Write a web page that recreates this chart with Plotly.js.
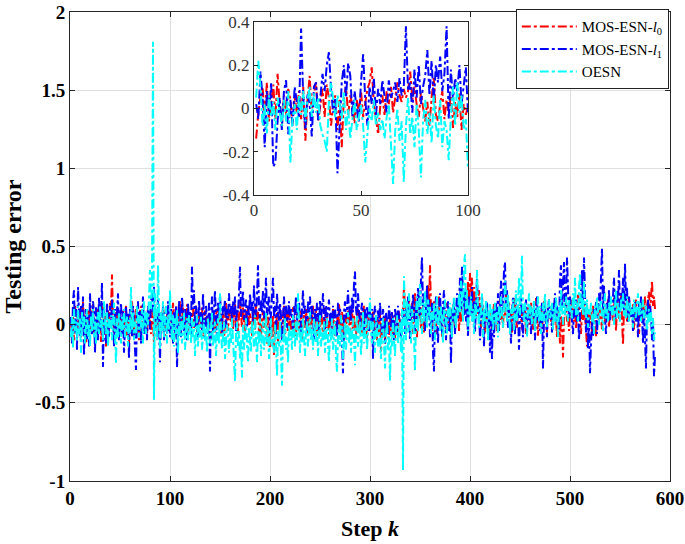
<!DOCTYPE html>
<html>
<head>
<meta charset="utf-8">
<script src="https://cdn.plot.ly/plotly-3.0.1.min.js"></script>
<style>html,body{margin:0;padding:0;background:#fff;}#chart{width:685px;height:544px;}</style>
</head>
<body>
<div id="chart"></div>
<script>
// ---- Data ----
const seriesNames = ['MOS-ESN-<i>l</i><sub>0</sub>', 'MOS-ESN-<i>l</i><sub>1</sub>', 'OESN'];

const mainRed = [
0.02,-0.08,0.05,-0.10,0.12,0.03,-0.06,0.08,-0.02,0.10,-0.09,0.04,0.15,-0.03,0.06,-0.12,0.02,0.09,-0.05,0.11,
-0.04,0.07,0.13,-0.08,0.03,-0.02,0.10,-0.06,0.05,0.08,-0.11,0.02,0.12,-0.03,0.06,-0.14,0.04,0.09,-0.05,0.14,
0.10,0.32,0.05,-0.06,0.08,-0.02,0.11,0.03,-0.09,0.06,0.01,-0.05,0.09,-0.03,0.05,0.12,-0.07,0.02,-0.12,0.07,
-0.04,0.15,0.02,-0.08,0.06,0.10,-0.03,0.04,-0.10,0.08,0.12,-0.05,0.03,0.07,-0.02,0.05,-0.08,0.11,0.01,0.06,
-0.06,0.09,0.02,-0.12,0.07,-0.03,0.04,0.10,-0.05,0.02,0.08,-0.02,0.12,0.05,-0.07,0.03,0.09,-0.04,0.06,0.01,
0.10,-0.05,0.14,0.04,-0.08,0.12,0.02,-0.03,0.09,0.15,-0.06,0.05,0.11,-0.02,0.07,0.00,0.13,-0.04,0.08,0.03,
-0.07,0.06,0.10,-0.02,0.04,0.12,-0.05,0.02,0.08,-0.03,0.06,0.11,-0.08,0.03,0.09,-0.01,0.05,-0.06,0.07,-0.03,
0.04,-0.09,0.08,0.02,-0.05,0.06,0.10,-0.02,0.04,0.12,-0.06,0.03,0.07,-0.10,0.05,0.14,0.01,-0.04,0.09,0.06,
0.02,0.10,-0.03,0.06,0.13,0.00,0.08,-0.05,0.04,0.15,0.07,-0.02,0.11,0.03,-0.06,0.09,0.05,0.12,-0.01,0.07,
0.03,-0.07,0.10,0.05,-0.03,0.14,0.02,0.08,-0.05,0.06,-0.10,0.04,0.09,-0.02,0.07,0.01,-0.12,0.05,-0.06,-0.15,
0.03,-0.08,0.06,-0.20,0.02,-0.05,0.08,-0.12,0.04,0.10,-0.03,-0.09,0.05,0.12,-0.06,0.02,0.07,-0.04,0.09,0.01,
-0.06,0.05,0.11,-0.02,0.04,-0.08,0.07,0.02,-0.04,0.09,0.05,-0.10,0.03,0.06,-0.02,0.10,0.00,-0.06,0.04,0.08,
-0.03,0.06,0.12,-0.05,0.02,0.09,-0.07,0.04,0.01,-0.04,0.08,0.03,-0.09,0.06,0.11,-0.02,0.05,0.00,-0.06,0.07,
0.03,-0.04,0.10,0.05,-0.08,0.02,0.07,-0.03,0.13,0.04,-0.06,0.08,0.01,-0.10,0.06,0.03,-0.02,0.09,0.05,-0.07,
0.04,0.11,-0.03,0.06,0.00,-0.08,0.05,0.10,-0.04,0.02,0.08,-0.06,0.03,0.12,-0.02,0.05,-0.09,0.07,0.01,-0.04,
0.06,-0.03,0.09,-0.07,0.02,0.05,-0.10,0.03,-0.05,0.07,-0.17,0.01,-0.08,0.04,-0.12,0.06,-0.03,0.02,-0.09,0.05,
-0.04,0.08,-0.06,0.03,-0.10,0.06,0.01,-0.05,0.09,0.02,-0.07,0.05,0.10,0.24,0.06,-0.04,0.12,0.03,0.18,-0.02,
0.08,0.14,-0.06,0.05,0.20,0.02,-0.08,0.10,0.04,0.16,-0.03,0.07,0.12,-0.05,0.09,0.02,0.15,0.26,0.06,0.38,
0.10,-0.04,0.08,0.15,0.02,-0.06,0.11,0.05,0.18,0.00,0.07,-0.08,0.12,0.04,0.09,-0.03,0.14,0.06,0.01,0.10,
-0.05,0.08,0.13,0.03,-0.02,0.10,0.06,0.16,-0.04,0.09,0.02,0.12,0.05,0.18,0.07,0.22,0.10,0.28,0.14,0.33,
0.20,0.30,0.08,0.24,0.12,0.03,0.18,0.06,0.22,0.10,-0.02,0.15,0.04,0.09,-0.05,0.12,0.02,0.07,-0.07,0.05,
0.10,-0.03,0.06,0.14,0.01,0.08,-0.04,0.11,0.05,0.16,0.03,0.09,-0.02,0.13,0.06,0.20,0.02,0.10,0.15,0.04,
0.08,-0.05,0.12,0.03,0.18,0.06,-0.02,0.10,0.04,0.14,0.07,-0.03,0.09,0.02,0.12,-0.06,0.05,0.11,0.00,0.08,
0.14,0.03,-0.04,0.10,0.06,0.17,0.02,-0.07,0.09,0.04,0.12,-0.02,0.07,0.15,0.01,0.08,-0.05,0.11,0.04,0.09,
0.02,0.13,-0.03,0.07,0.18,0.05,-0.08,0.10,0.03,-0.12,0.06,0.01,-0.21,0.04,0.09,0.14,0.02,0.07,-0.04,0.11,
0.05,0.16,0.08,0.02,0.12,-0.03,0.06,0.20,0.09,0.04,-0.06,0.10,0.03,0.15,0.07,-0.02,-0.14,0.05,0.11,0.01,
0.08,-0.05,0.12,0.04,0.09,-0.08,0.06,0.14,0.02,0.10,0.05,-0.03,0.13,0.07,0.01,0.11,0.04,0.16,-0.02,0.09,
0.06,0.12,0.02,0.18,0.07,-0.04,0.10,0.15,0.03,0.08,0.20,0.05,-0.13,0.11,0.06,0.14,0.02,0.09,0.17,0.04,
0.10,0.06,0.13,-0.03,0.08,0.16,0.04,0.11,-0.06,0.09,0.15,0.02,0.12,0.07,0.18,0.05,0.10,0.14,0.21,0.08,
0.24,0.28,0.12,0.18,0.10
];

const mainBlue = [
0.05,-0.12,0.15,0.22,-0.05,0.10,-0.16,0.24,0.08,-0.08,0.12,-0.02,0.18,-0.20,0.04,0.10,-0.10,0.06,-0.14,0.20,
0.02,-0.06,0.15,0.08,-0.18,0.12,0.04,-0.10,0.18,-0.04,0.06,0.27,-0.27,0.10,0.02,-0.12,0.14,0.05,-0.08,0.12,
-0.02,0.16,0.06,-0.14,0.10,-0.05,0.08,0.20,-0.10,0.03,0.14,-0.06,0.09,-0.18,0.05,0.12,-0.03,0.07,-0.22,0.10,
0.04,-0.08,0.12,0.02,-0.16,-0.29,0.06,0.15,-0.04,0.09,-0.12,0.03,0.18,-0.06,0.08,0.00,-0.10,0.12,0.05,-0.03,
0.14,0.20,0.08,0.25,-0.04,0.10,-0.08,0.16,0.02,-0.24,0.06,-0.02,0.12,-0.10,0.08,0.04,-0.06,0.15,0.02,-0.08,
0.10,0.04,-0.12,0.08,-0.05,0.12,-0.27,0.02,0.15,0.06,-0.08,0.18,0.03,-0.04,0.10,0.05,-0.10,0.14,0.02,0.08,
-0.06,0.37,0.10,0.22,-0.02,0.12,0.05,-0.08,0.16,0.03,0.08,-0.04,0.20,0.06,-0.10,0.12,0.02,-0.06,0.14,-0.30,
0.05,0.18,-0.04,0.10,0.22,0.02,-0.08,0.14,0.06,0.19,0.03,-0.05,0.12,0.08,0.16,-0.02,0.10,0.04,0.20,0.07,
0.12,0.02,0.15,0.06,0.18,-0.04,0.10,0.08,0.20,0.37,0.05,0.14,0.22,0.03,0.10,0.16,-0.02,0.12,0.06,0.20,
0.08,0.15,0.02,0.25,0.10,0.05,0.18,0.38,0.12,0.02,0.16,0.08,0.22,0.04,0.14,0.30,0.06,0.12,0.18,-0.04,
0.10,0.16,0.30,0.05,0.12,-0.06,0.20,0.08,0.02,0.14,0.06,-0.10,0.10,0.18,0.04,0.12,-0.02,0.08,0.15,0.03,
0.10,0.05,-0.04,0.12,0.06,0.18,0.02,0.09,0.14,0.04,-0.08,0.10,0.22,0.06,0.12,0.03,-0.05,0.15,0.08,0.18,
0.04,0.12,0.06,-0.10,0.10,0.02,0.14,0.08,-0.05,0.16,0.04,0.10,0.20,0.06,-0.03,0.12,0.05,0.09,0.16,0.02,
0.08,-0.06,0.12,0.04,0.10,0.02,-0.08,0.14,0.06,0.11,0.03,-0.12,-0.31,0.08,0.15,0.04,0.10,0.22,0.06,0.12,
0.02,0.18,0.08,0.26,0.34,0.10,0.04,0.20,0.12,-0.02,0.08,0.14,0.05,-0.06,0.10,0.03,0.12,0.07,-0.04,0.09,
0.02,0.10,-0.22,0.06,0.12,0.04,-0.05,0.09,0.02,0.14,0.06,-0.08,0.10,0.04,-0.12,0.08,0.01,-0.06,0.12,0.05,
-0.02,0.08,0.03,-0.10,0.10,0.05,-0.04,0.12,0.06,0.00,-0.08,0.09,0.04,0.14,-0.06,0.10,0.02,0.18,0.06,-0.10,
0.12,0.04,0.20,0.08,-0.05,0.15,0.02,0.24,0.10,0.06,0.30,0.43,0.12,0.20,-0.04,0.10,0.25,0.05,0.16,-0.08,
0.06,0.14,-0.18,-0.30,0.08,0.18,0.02,-0.12,0.10,0.20,0.05,-0.06,0.12,0.22,0.04,-0.10,0.08,0.15,-0.04,0.06,
-0.25,0.10,0.02,0.16,-0.06,0.08,0.20,0.04,0.12,0.30,0.10,0.37,0.15,0.06,0.22,0.02,0.12,-0.08,0.18,0.06,
0.10,0.24,0.02,0.15,-0.05,0.20,0.30,0.08,0.12,-0.10,0.04,0.18,0.06,-0.14,0.10,0.02,0.15,-0.06,0.08,-0.18,
0.04,-0.22,0.10,-0.08,0.06,0.14,0.02,0.20,-0.04,0.10,0.28,0.06,0.15,0.35,0.40,0.12,0.22,-0.02,0.10,0.04,
-0.12,0.08,0.18,0.02,-0.06,0.14,0.05,0.10,-0.16,0.06,0.20,0.02,-0.08,0.12,0.04,0.16,-0.04,0.08,0.02,0.12,
-0.06,0.10,0.04,0.15,-0.10,0.06,0.18,0.02,0.10,-0.04,0.08,0.14,-0.28,0.05,0.12,0.02,-0.08,0.10,0.16,0.04,
0.10,-0.05,0.14,0.06,0.20,0.02,0.12,0.08,-0.04,0.30,0.38,0.10,0.22,0.40,0.06,0.15,0.43,0.12,0.04,0.18,
0.08,0.02,-0.06,0.12,0.05,0.16,0.02,0.10,-0.10,0.06,0.22,0.35,0.14,0.43,0.20,-0.05,0.08,-0.15,0.04,-0.31,
-0.12,0.02,-0.08,0.10,0.04,0.15,-0.06,0.08,0.20,0.12,0.30,0.49,0.10,0.25,0.04,-0.06,0.14,0.08,0.22,0.02,
0.12,0.06,0.18,0.30,0.10,0.04,0.22,0.14,0.35,0.08,0.20,0.12,0.30,0.06,0.39,0.15,0.24,0.02,0.18,0.10,
0.05,0.12,-0.04,0.08,0.15,0.02,0.10,-0.08,0.14,0.04,0.18,0.06,-0.12,0.10,-0.20,-0.28,0.08,0.16,0.02,0.12,
0.06,-0.10,0.04,-0.33,-0.20
];

const mainCyan = [
-0.08,0.05,-0.15,0.10,-0.04,0.02,-0.10,0.12,-0.06,0.04,-0.18,0.08,-0.02,0.06,-0.12,0.03,0.10,-0.08,0.00,-0.14,
0.06,-0.04,0.10,-0.08,0.02,-0.12,0.05,0.08,-0.06,0.12,-0.02,0.04,-0.10,0.15,0.02,-0.06,0.08,-0.14,0.04,-0.02,
0.06,-0.10,0.02,0.14,-0.06,-0.25,0.04,-0.08,0.08,0.02,-0.12,0.05,-0.04,0.10,-0.08,0.00,0.06,-0.14,0.03,-0.06,
0.24,-0.04,0.08,-0.10,0.02,-0.06,0.12,0.04,-0.08,0.06,-0.02,0.10,-0.12,0.15,0.02,-0.06,0.08,0.00,0.18,0.35,
0.10,0.28,1.81,-0.48,0.20,0.05,-0.10,0.38,0.12,-0.15,0.08,-0.05,0.15,-0.08,0.04,0.12,-0.12,0.06,-0.04,0.22,
0.02,-0.10,0.06,-0.14,0.04,-0.06,0.10,-0.18,0.02,-0.08,0.05,-0.12,0.00,0.08,-0.16,-0.04,0.04,-0.10,0.06,-0.02,
-0.12,0.04,-0.08,0.02,-0.20,-0.05,0.06,-0.14,0.00,-0.08,0.05,-0.16,-0.04,0.03,-0.10,-0.02,-0.18,0.04,-0.06,-0.12,
-0.02,0.08,-0.14,-0.06,0.02,-0.20,-0.08,0.04,-0.12,0.20,-0.04,-0.16,-0.08,0.02,-0.22,-0.10,0.00,-0.06,-0.18,-0.02,
-0.12,0.04,-0.08,-0.20,-0.36,-0.06,0.02,-0.14,-0.04,-0.22,-0.10,-0.34,0.00,-0.16,-0.08,0.04,-0.12,-0.24,-0.02,-0.10,
-0.18,0.02,-0.08,-0.14,0.06,-0.10,-0.24,-0.04,-0.12,0.04,-0.20,-0.06,0.02,-0.16,-0.08,0.08,-0.12,-0.02,-0.22,-0.06,
0.04,-0.14,-0.08,-0.18,0.00,-0.10,-0.33,-0.04,-0.14,0.02,-0.20,-0.39,-0.06,-0.12,0.04,-0.16,-0.08,-0.24,0.00,-0.10,
-0.04,-0.16,0.06,-0.08,-0.14,0.02,-0.10,0.20,-0.06,-0.18,-0.02,-0.12,0.04,-0.08,-0.20,-0.04,0.02,-0.14,-0.06,0.08,
-0.10,-0.02,-0.16,0.04,-0.08,-0.12,0.02,-0.20,-0.06,0.06,-0.14,-0.04,-0.10,0.02,-0.18,-0.06,0.04,-0.12,-0.24,-0.02,
-0.10,0.04,-0.16,-0.06,0.02,-0.20,-0.30,-0.08,0.00,-0.14,0.06,-0.04,-0.22,-0.10,0.02,-0.16,-0.06,0.08,-0.12,-0.02,
-0.18,-0.06,0.04,-0.10,-0.26,-0.02,0.06,-0.14,-0.08,0.02,-0.20,-0.04,0.08,-0.12,-0.06,0.04,-0.16,-0.02,0.10,0.17,
-0.04,-0.12,0.02,-0.08,-0.18,0.06,-0.06,-0.14,0.00,-0.10,-0.22,-0.04,0.04,-0.12,-0.28,-0.06,0.02,-0.16,-0.08,-0.36,
-0.04,-0.14,0.04,-0.10,-0.20,-0.02,0.06,-0.12,-0.06,0.02,-0.18,0.10,-0.93,0.31,0.08,-0.10,0.15,-0.05,0.20,0.02,
-0.12,0.10,0.04,-0.08,-0.30,0.06,0.18,-0.04,0.12,0.26,0.08,-0.06,0.14,0.02,0.22,0.10,-0.02,0.16,0.06,0.12,
-0.06,0.08,0.02,0.14,-0.10,0.06,0.18,0.00,0.10,-0.04,0.12,0.04,-0.12,0.08,0.16,0.02,-0.06,0.10,0.04,0.14,
0.02,-0.08,0.10,0.18,0.04,-0.02,0.12,0.06,0.20,0.08,0.28,0.14,0.02,0.38,0.45,0.10,0.22,-0.04,0.12,0.06,
0.18,0.02,0.10,-0.06,0.14,0.04,0.35,0.08,-0.02,0.12,0.06,0.20,-0.08,0.10,0.02,0.16,0.05,-0.10,0.08,0.14,
0.02,0.10,-0.04,0.06,0.14,0.00,0.08,-0.08,0.12,0.04,0.18,0.06,-0.02,0.10,0.28,0.14,0.02,0.20,0.08,-0.06,
0.10,0.04,0.16,-0.04,0.08,0.22,0.02,0.12,0.30,0.06,0.18,0.44,0.10,0.02,0.14,0.06,-0.08,0.10,0.20,0.04,
0.12,0.00,0.08,0.16,-0.04,0.10,0.05,0.18,0.02,0.12,-0.06,0.08,0.14,0.02,0.20,0.06,-0.02,0.10,0.16,0.04,
0.08,0.14,-0.04,0.10,0.02,0.18,0.06,-0.08,0.12,0.04,0.22,0.08,0.00,0.14,0.06,0.18,0.10,0.02,0.16,0.08,
0.12,0.04,0.20,0.10,0.30,0.06,0.14,0.02,0.24,0.33,0.10,0.18,0.06,0.28,0.12,0.04,0.16,-0.02,0.10,0.06,
0.14,0.02,0.08,-0.06,0.12,0.04,0.18,0.08,0.00,0.10,0.16,0.06,-0.04,0.12,0.20,0.04,0.10,0.02,0.14,0.08,
0.18,0.06,0.12,0.00,0.10,0.22,0.04,0.14,0.08,0.02,0.16,0.10,0.20,0.06,0.12,0.04,0.18,0.08,0.02,0.14,
0.06,0.10,-0.02,0.16,0.08,0.04,0.12,0.20,0.06,0.14,0.02,0.10,0.16,0.04,0.08,0.12,-0.04,0.06,0.10,0.02,
0.08,-0.06,0.04,-0.10,-0.05
];

const insetRed = [
-0.14,-0.02,0.05,0.10,-0.04,0.12,-0.06,0.03,0.11,-0.05,0.16,0.02,-0.08,0.06,-0.03,0.09,0.04,-0.07,0.05,-0.02,
0.08,-0.05,0.10,-0.15,0.04,0.15,-0.02,0.07,0.12,-0.06,0.03,0.09,-0.04,0.11,0.05,-0.08,0.02,0.06,-0.10,0.04,
-0.18,0.05,0.10,-0.03,0.06,0.01,-0.07,0.04,-0.02,0.08,-0.04,0.03,0.09,0.12,0.19,0.02,-0.05,-0.12,0.01,0.06,
-0.03,0.08,0.02,0.10,-0.02,0.05,0.12,0.06,0.03,0.09,0.05,0.08,0.17,0.04,0.10,0.02,-0.04,0.07,0.01,-0.06,
0.03,-0.08,0.05,0.14,-0.03,-0.06,0.02,0.08,-0.05,0.04,-0.02,0.06,-0.09,0.03,-0.04,0.07,-0.10,0.02,-0.03,0.01
];

const insetBlue = [
0.02,-0.05,0.17,0.05,-0.18,0.08,-0.03,0.12,-0.27,-0.25,-0.06,0.05,-0.10,0.08,0.13,-0.12,0.04,-0.08,0.10,0.03,
-0.04,0.37,0.05,-0.10,0.07,0.02,-0.13,0.10,0.12,-0.06,0.04,0.16,0.08,0.20,0.26,0.09,-0.02,0.05,-0.30,-0.08,
0.12,0.20,0.05,0.21,0.15,-0.04,0.08,0.00,-0.06,0.12,0.25,0.04,-0.08,0.10,0.02,0.14,-0.03,0.09,0.02,0.13,
0.06,-0.02,0.13,0.05,0.08,0.12,0.03,0.14,0.06,0.10,0.38,0.08,0.12,-0.02,0.18,0.05,0.20,0.02,0.10,0.15,
0.27,0.06,0.22,0.03,0.20,0.12,0.24,0.08,0.16,0.38,-0.05,0.18,0.04,0.14,0.08,0.20,0.02,0.12,0.19,-0.02
];

const insetCyan = [
0.05,0.22,0.10,-0.08,0.02,-0.12,0.06,-0.04,0.03,-0.10,0.05,-0.02,-0.08,0.04,-0.06,0.08,-0.25,-0.05,0.02,-0.10,
0.06,-0.03,0.08,-0.06,0.04,0.10,-0.04,0.07,-0.02,0.05,-0.08,-0.12,-0.15,-0.20,0.03,0.12,0.05,-0.04,0.06,0.02,
-0.05,0.08,-0.10,0.00,-0.14,-0.06,0.04,-0.10,-0.04,0.02,-0.08,-0.25,-0.12,0.00,-0.06,0.04,-0.08,-0.02,-0.10,-0.05,
-0.14,-0.04,0.02,-0.20,-0.35,-0.10,0.00,-0.15,-0.06,-0.34,-0.08,0.05,-0.12,-0.04,-0.18,0.02,-0.10,-0.32,-0.06,0.04,
-0.12,-0.02,-0.16,0.06,-0.08,-0.14,0.04,-0.18,-0.06,-0.10,-0.24,-0.04,0.10,-0.08,0.12,-0.02,0.06,-0.10,-0.05,-0.28
];

const mainXTicks = [0, 100, 200, 300, 400, 500, 600];
const mainXTickText = ['0', '100', '200', '300', '400', '500', '600'];
const mainYTicks = [-1, -0.5, 0, 0.5, 1, 1.5, 2];
const mainYTickText = ['-1', '-0.5', '0', '0.5', '1', '1.5', '2'];
const insetXTicks = [0, 50, 100];
const insetXTickText = ['0', '50', '100'];
const insetYTicks = [-0.4, -0.2, 0, 0.2, 0.4];
const insetYTickText = ['-0.4', '-0.2', '0', '0.2', '0.4'];

// ---- Build traces ----
const colors = ['#ff0000', '#0000ff', '#00ffff'];
const steps = arr => arr.map((_, i) => i + 1);
const mainSeries = [mainRed, mainBlue, mainCyan];
const insetSeries = [insetRed, insetBlue, insetCyan];

const traces = [];
mainSeries.forEach((ys, i) => {
  traces.push({
    x: steps(ys), y: ys, type: 'scatter', mode: 'lines', name: seriesNames[i],
    line: {color: colors[i], width: 2, dash: 'dashdot'},
    xaxis: 'x', yaxis: 'y', showlegend: true
  });
});
insetSeries.forEach((ys, i) => {
  traces.push({
    x: steps(ys), y: ys, type: 'scatter', mode: 'lines', name: seriesNames[i],
    line: {color: colors[i], width: 2, dash: 'dashdot'},
    xaxis: 'x2', yaxis: 'y2', showlegend: false
  });
});

const serif = 'Liberation Serif, Times New Roman, serif';
const axisCol = '#262626';

const layout = {
  width: 685, height: 544,
  margin: {l: 70, r: 15, t: 9, b: 63},
  paper_bgcolor: '#ffffff', plot_bgcolor: '#ffffff',
  font: {family: serif, color: '#000'},
  showlegend: true,
  legend: {
    x: 0.998, y: 1.006, xanchor: 'right', yanchor: 'top',
    bgcolor: '#ffffff', bordercolor: '#222', borderwidth: 1,
    font: {family: serif, size: 15, color: '#000'},
    itemwidth: 55, tracegroupgap: 0
  },
  xaxis: {
    domain: [0, 1], range: [0, 600], tickvals: mainXTicks, ticktext: mainXTickText,
    ticks: 'inside', ticklen: 5, tickcolor: axisCol, showline: true, linecolor: axisCol, linewidth: 1,
    mirror: 'ticks', showgrid: true, gridcolor: '#e0e0e0', zeroline: false,
    tickfont: {family: serif, size: 19, weight: 'bold', color: '#000'},
    title: {text: 'Step <i>k</i>', font: {family: serif, size: 22, weight: 'bold', color: '#000'}, standoff: 12}
  },
  yaxis: {
    domain: [0, 1], range: [-1, 2], tickvals: mainYTicks, ticktext: mainYTickText,
    ticks: 'inside', ticklen: 5, tickcolor: axisCol, showline: true, linecolor: axisCol, linewidth: 1,
    mirror: 'ticks', showgrid: true, gridcolor: '#e0e0e0', zeroline: false,
    tickfont: {family: serif, size: 19, weight: 'bold', color: '#000'},
    title: {text: 'Testing error', font: {family: serif, size: 24, weight: 'bold', color: '#000'}, standoff: 6}
  },
  xaxis2: {
    domain: [0.3067, 0.6633], anchor: 'y2', range: [0, 100], tickvals: insetXTicks, ticktext: insetXTickText,
    ticks: 'inside', ticklen: 4, tickcolor: axisCol, showline: true, linecolor: axisCol, linewidth: 1,
    mirror: 'ticks', showgrid: false, zeroline: false,
    tickfont: {family: serif, size: 17, color: '#333'}
  },
  yaxis2: {
    domain: [0.6102, 0.9788], anchor: 'x2', range: [-0.4, 0.4], tickvals: insetYTicks, ticktext: insetYTickText,
    ticks: 'inside', ticklen: 4, tickcolor: axisCol, showline: true, linecolor: axisCol, linewidth: 1,
    mirror: 'ticks', showgrid: false, zeroline: false,
    tickfont: {family: serif, size: 17, color: '#333'}
  }
};

Plotly.newPlot('chart', traces, layout, {staticPlot: true, displayModeBar: false});
</script>
</body>
</html>
